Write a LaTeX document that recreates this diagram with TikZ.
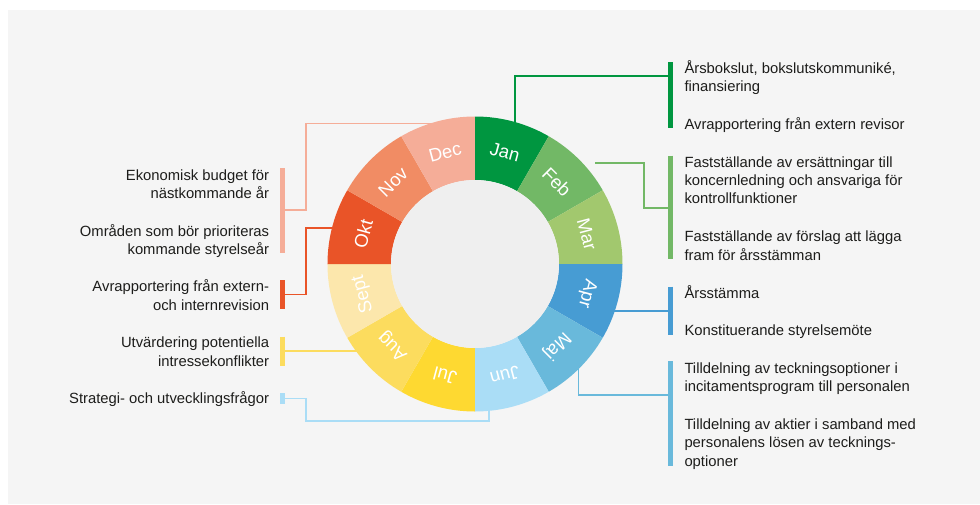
\documentclass[tikz,border=0pt]{standalone}
\usepackage{fontspec}
\setmainfont{Liberation Sans}

% month colours
\definecolor{janc}{HTML}{009640}
\definecolor{febc}{HTML}{72B866}
\definecolor{marc}{HTML}{A2C86E}
\definecolor{aprc}{HTML}{479CD3}
\definecolor{majc}{HTML}{69B9DB}
\definecolor{junc}{HTML}{AADDF6}
\definecolor{julc}{HTML}{FED931}
\definecolor{augc}{HTML}{FCDC5E}
\definecolor{septc}{HTML}{FCE7AC}
\definecolor{oktc}{HTML}{E95428}
\definecolor{novc}{HTML}{F18C64}
\definecolor{decc}{HTML}{F5AD98}
% background and text
\definecolor{panelc}{HTML}{F5F5F5}
\definecolor{innerc}{HTML}{EFEFEF}
\definecolor{notec}{HTML}{1D1D1B}

\begin{document}
\begin{tikzpicture}[x=1pt,y=1pt,
    month/.style={text=white, font=\fontsize{18.5}{20}\selectfont, inner sep=0pt},
    note/.style={text=notec, font=\fontsize{14.8}{18.2}\selectfont, inner sep=0pt},
    bar/.style={line width=5pt},
    link/.style={line width=1.6pt}]

    % Page size and grey panel
    \useasboundingbox (-475,-240) rectangle (505,264);
    \fill[panelc] (-467,-240) rectangle (505,254);

    % Radii of the ring
    \def\Rout{147.5}
    \def\Rin{84}

    % Points inside the ring where the connectors start
    \coordinate (janIn) at (40,120);
    \coordinate (febIn) at (120,101.3);
    \coordinate (aprIn) at (130,-46.7);
    \coordinate (majIn) at (103.3,-90);
    \coordinate (junIn) at (14.3,-120);
    \coordinate (augIn) at (-100,-86.7);
    \coordinate (oktIn) at (-120,36.3);
    \coordinate (decIn) at (-20,140.7);

    % Bends and the points where they meet the bars
    \coordinate (janJoin) at (195.5,188);
    \coordinate (febBend) at (169,56.3);
    \coordinate (febJoin) at (195.5,56.3);
    \coordinate (aprJoin) at (195.5,-46.7);
    \coordinate (majJoin) at (195.5,-131);
    \coordinate (junBend) at (-169,-156.7);
    \coordinate (junJoin) at (-192,-134.3);
    \coordinate (augJoin) at (-192,-86.7);
    \coordinate (oktBend) at (-169,-30.3);
    \coordinate (oktJoin) at (-192,-30.3);
    \coordinate (decBend) at (-169,54);
    \coordinate (decJoin) at (-192,54);

    % Connectors (the ring is drawn over their start)
    \draw[link, janc] (janIn) |- (janJoin);
    \draw[link, febc] (febIn) -| (febBend) -- (febJoin);
    \draw[link, aprc] (aprIn) -- (aprJoin);
    \draw[link, majc] (majIn) |- (majJoin);
    \draw[link, junc] (junIn) |- (junBend) |- (junJoin);
    \draw[link, augc] (augIn) -- (augJoin);
    \draw[link, oktc] (oktIn) -| (oktBend) -- (oktJoin);
    \draw[link, decc] (decIn) -| (decBend) -- (decJoin);

    % Bars beside the notes
    \draw[bar, janc] (195.5,202) -- (195.5,136);
    \draw[bar, febc] (195.5,108.3) -- (195.5,4.7);
    \draw[bar, aprc] (195.5,-22.7) -- (195.5,-71);
    \draw[bar, majc] (195.5,-97) -- (195.5,-202);
    \draw[bar, decc] (-192,96) -- (-192,11);
    \draw[bar, oktc] (-192,-16) -- (-192,-45.3);
    \draw[bar, augc] (-192,-72.7) -- (-192,-101.7);
    \draw[bar, junc] (-192,-129.3) -- (-192,-140.3);

    % The twelve month segments, clockwise from the top
    \foreach \name/\col [count=\i] in {Jan/janc, Feb/febc, Mar/marc, Apr/aprc,
        Maj/majc, Jun/junc, Jul/julc, Aug/augc, Sept/septc, Okt/oktc,
        Nov/novc, Dec/decc} {
        \pgfmathsetmacro{\s}{120-30*\i}
        \pgfmathsetmacro{\e}{\s-30}
        \pgfmathsetmacro{\m}{\s-15}
        \fill[\col] (\s:\Rout) arc (\s:\e:\Rout) -- (\e:\Rin) arc (\e:\s:\Rin) -- cycle;
        \node[month, rotate=\m-90] (\name) at (\m:115.75) {\name};
    }

    % Grey middle
    \fill[innerc] (0,0) circle (\Rin);

    % Notes on the right (base = baseline of the last line)
    \node[note, anchor=base west, align=left] (janNoteA) at (209.3,172.3)
        {Årsbokslut, bokslutskommuniké,\\finansiering};
    \node[note, anchor=base west, align=left] (janNoteB) at (209.3,135)
        {Avrapportering från extern revisor};
    \node[note, anchor=base west, align=left] (febNoteA) at (209.3,60.3)
        {Fastställande av ersättningar till\\koncernledning och ansvariga för\\kontrollfunktioner};
    \node[note, anchor=base west, align=left] (febNoteB) at (209.3,4)
        {Fastställande av förslag att lägga\\fram för årsstämman};
    \node[note, anchor=base west, align=left] (aprNoteA) at (209.3,-34.3)
        {Årsstämma};
    \node[note, anchor=base west, align=left] (aprNoteB) at (209.3,-71)
        {Konstituerande styrelsemöte};
    \node[note, anchor=base west, align=left] (majNoteA) at (209.3,-127.7)
        {Tilldelning av teckningsoptioner i\\incitamentsprogram till personalen};
    \node[note, anchor=base west, align=left] (majNoteB) at (209.3,-202)
        {Tilldelning av aktier i samband med\\personalens lösen av tecknings-\\optioner};

    % Notes on the left
    \node[note, anchor=base east, align=right] (decNoteA) at (-205.7,65.7)
        {Ekonomisk budget för\\nästkommande år};
    \node[note, anchor=base east, align=right] (decNoteB) at (-205.7,9.7)
        {Områden som bör prioriteras\\kommande styrelseår};
    \node[note, anchor=base east, align=right] (oktNote) at (-205.7,-46)
        {Avrapportering från extern-\\och internrevision};
    \node[note, anchor=base east, align=right] (augNote) at (-205.7,-102)
        {Utvärdering potentiella\\intressekonflikter};
    \node[note, anchor=base east, align=right] (junNote) at (-205.7,-139.3)
        {Strategi- och utvecklingsfrågor};

\end{tikzpicture}
\end{document}
